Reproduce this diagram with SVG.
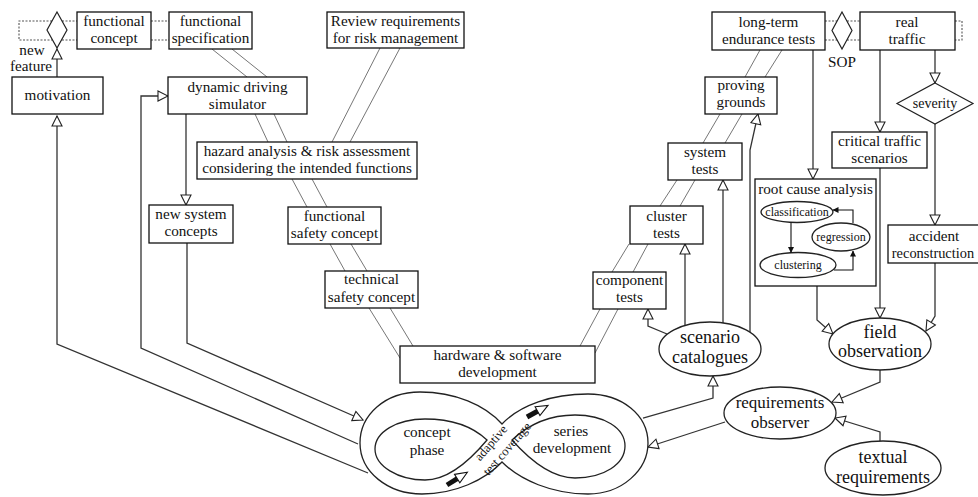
<svg xmlns="http://www.w3.org/2000/svg" width="978" height="497" viewBox="0 0 978 497" font-family="'Liberation Serif', 'DejaVu Serif', serif">
<defs>
<marker id="tri" viewBox="0 0 12 12" refX="11" refY="6" markerWidth="12" markerHeight="12" markerUnits="userSpaceOnUse" orient="auto">
<path d="M1,1 L11,6 L1,11 Z" fill="#fff" stroke="#222" stroke-width="1.1"/>
</marker>
<marker id="sm" viewBox="0 0 6 6" refX="5.5" refY="3" markerWidth="6" markerHeight="6" markerUnits="userSpaceOnUse" orient="auto">
<path d="M0,0 L6,3 L0,6 Z" fill="#111"/>
</marker>
</defs>
<style>
text{font-family:"Liberation Serif","DejaVu Serif",serif;fill:#111;text-anchor:middle}
.t{font-size:15.2px}
.b{font-size:18px}
.s{font-size:12px}
.box{fill:#fff;stroke:#111;stroke-width:1.3}
.ell{fill:#fff;stroke:#222;stroke-width:1.3}
.c{fill:none;stroke:#333;stroke-width:1.3;marker-end:url(#tri)}
.v{fill:none;stroke:#666;stroke-width:0.9}
.d{fill:none;stroke:#555;stroke-width:1.1;stroke-dasharray:2 1.5}
</style>
<rect width="978" height="497" fill="#fff"/>

<g id="vlines">
<path class="v" d="M212,49 L247,77 M232,49 L267,77"/>
<path class="v" d="M255,114 L268,142 M274,114 L287,142"/>
<path class="v" d="M380,48 L332,142 M400,48 L350,142"/>
<path class="v" d="M292,179 L307,207 M312,179 L327,207"/>
<path class="v" d="M330,244 L345,271 M351,244 L367,271"/>
<path class="v" d="M369,308 L400,358 M390,308 L413,346"/>
<path class="v" d="M580,346 L600,309 M595,353 L618,309"/>
<path class="v" d="M612,272 L629,244 M633,272 L648,244"/>
<path class="v" d="M660,206 L677,180 M680,206 L695,180"/>
<path class="v" d="M703,143 L720,114 M725,143 L742,114"/>
<path class="v" d="M745,77 L760,50 M765,77 L782,50"/>
</g>

<g id="connectors">
<path class="d" d="M52,21 H19 V40 H52 M62,21 H77 M62,40 H77 M151,21 H169 M151,40 H169"/>
<path class="d" d="M825,21 H837 M825,40 H837 M847,21 H860 M847,40 H860 M955,21 H962 V40 H955"/>
<path class="c" d="M57,77 V49"/>
<path class="c" d="M368,473 L57,344 V116"/>
<path class="c" d="M358,444 L141,348 V96 H168"/>
<path class="c" d="M186,114 V205"/>
<path class="c" d="M187,243 V343 L363,420"/>
<path class="c" d="M935,50 V83"/>
<path class="c" d="M880,50 V132"/>
<path class="c" d="M813,50 V179"/>
<path class="c" d="M935,124 V225"/>
<path class="c" d="M817,286 V320 L833,334"/>
<path class="c" d="M880,168 V318"/>
<path class="c" d="M935,263 V316 L926,331"/>
<path class="c" d="M880,370 V382 L832,402"/>
<path class="c" d="M880,442 V432 L835,418"/>
<path class="c" d="M725,422 L648,447"/>
<path class="c" d="M643,418 L713,398 V376"/>
<path class="c" d="M667,334 L648,326 V309"/>
<path class="c" d="M685,325 V244"/>
<path class="c" d="M723,323 V180"/>
<path class="c" d="M750,332 V150 L758,114"/>
</g>

<g id="new-feature">
<polygon points="57,12 67,30 57,48 47,30" fill="#fff" stroke="#222" stroke-width="1.2"/>
<text class="t" x="32" y="55">new</text>
<text class="t" x="31" y="71">feature</text>
</g>
<g id="functional-concept">
<rect class="box" x="77" y="12" width="74" height="37"/>
<text class="t" x="114" y="26">functional</text>
<text class="t" x="114" y="43">concept</text>
</g>
<g id="functional-specification">
<rect class="box" x="169" y="12" width="83" height="37"/>
<text class="t" x="210.5" y="26">functional</text>
<text class="t" x="210.5" y="43">specification</text>
</g>
<g id="review-requirements">
<rect class="box" x="327" y="12" width="137" height="36"/>
<text class="t" x="395.5" y="26">Review requirements</text>
<text class="t" x="395.5" y="43">for risk management</text>
</g>
<g id="motivation">
<rect class="box" x="12" y="77" width="91" height="37"/>
<text class="t" x="57.5" y="100">motivation</text>
</g>
<g id="dynamic-driving-simulator">
<rect class="box" x="168" y="77" width="139" height="37"/>
<text class="t" x="237.5" y="92">dynamic driving</text>
<text class="t" x="237.5" y="109">simulator</text>
</g>
<g id="hazard-analysis">
<rect class="box" x="197" y="142" width="220" height="37"/>
<text class="t" x="307" y="156">hazard analysis &amp; risk assessment</text>
<text class="t" x="307" y="173">considering the intended functions</text>
</g>
<g id="new-system-concepts">
<rect class="box" x="149" y="205" width="84" height="38"/>
<text class="t" x="191" y="219">new system</text>
<text class="t" x="191" y="236">concepts</text>
</g>
<g id="functional-safety-concept">
<rect class="box" x="288" y="207" width="93" height="37"/>
<text class="t" x="334.5" y="221">functional</text>
<text class="t" x="334.5" y="238">safety concept</text>
</g>
<g id="technical-safety-concept">
<rect class="box" x="325" y="271" width="93" height="37"/>
<text class="t" x="371.5" y="284">technical</text>
<text class="t" x="371.5" y="302">safety concept</text>
</g>
<g id="hw-sw-development">
<rect class="box" x="400" y="346" width="195" height="37"/>
<text class="t" x="497.5" y="360">hardware &amp; software</text>
<text class="t" x="497.5" y="377">development</text>
</g>
<g id="component-tests">
<rect class="box" x="593" y="272" width="73" height="37"/>
<text class="t" x="629.5" y="285">component</text>
<text class="t" x="629.5" y="302">tests</text>
</g>
<g id="cluster-tests">
<rect class="box" x="630" y="206" width="73" height="38"/>
<text class="t" x="666.5" y="221">cluster</text>
<text class="t" x="666.5" y="238">tests</text>
</g>
<g id="system-tests">
<rect class="box" x="668" y="143" width="74" height="37"/>
<text class="t" x="705" y="157">system</text>
<text class="t" x="705" y="174">tests</text>
</g>
<g id="proving-grounds">
<rect class="box" x="705" y="77" width="72" height="37"/>
<text class="t" x="741" y="90">proving</text>
<text class="t" x="741" y="107">grounds</text>
</g>
<g id="long-term-endurance-tests">
<rect class="box" x="712" y="12" width="113" height="38"/>
<text class="t" x="768.5" y="27">long-term</text>
<text class="t" x="768.5" y="44">endurance tests</text>
</g>
<g id="sop">
<polygon points="842,12 852,30.5 842,49 832,30.5" fill="#fff" stroke="#222" stroke-width="1.2"/>
<text class="t" x="842" y="67">SOP</text>
</g>
<g id="real-traffic">
<rect class="box" x="860" y="12" width="95" height="38"/>
<text class="t" x="907" y="27">real</text>
<text class="t" x="907" y="44">traffic</text>
</g>
<g id="severity">
<polygon points="935,83 973,103.5 935,124 897,103.5" fill="#fff" stroke="#222" stroke-width="1.2"/>
<text style="font-size:14px" x="935" y="108">severity</text>
</g>
<g id="critical-traffic-scenarios">
<rect class="box" x="832" y="132" width="95" height="36"/>
<text class="t" x="879.5" y="146">critical traffic</text>
<text class="t" x="879.5" y="163">scenarios</text>
</g>
<g id="root-cause-analysis">
<rect class="box" x="755" y="179" width="121" height="107"/>
<text class="t" x="815.5" y="194">root cause analysis</text>
<ellipse class="ell" cx="797" cy="212" rx="36" ry="10.5" stroke-width="1"/>
<text class="s" x="797" y="216">classification</text>
<ellipse class="ell" cx="841" cy="237" rx="29" ry="14" stroke-width="1"/>
<text class="s" x="841" y="241">regression</text>
<ellipse class="ell" cx="798" cy="265" rx="38" ry="12.5" stroke-width="1"/>
<text class="s" x="798" y="269">clustering</text>
<path d="M791,222.5 V252.5" fill="none" stroke="#111" stroke-width="1.1" marker-end="url(#sm)"/>
<path d="M853,223 V210 H833" fill="none" stroke="#111" stroke-width="1.1" marker-end="url(#sm)"/>
<path d="M834,270 H853 V251" fill="none" stroke="#111" stroke-width="1.1" marker-end="url(#sm)"/>
</g>
<g id="accident-reconstruction">
<rect class="box" x="888" y="225" width="100" height="38"/>
<text class="t" x="934" y="241">accident</text>
<text style="font-size:14.4px" x="933" y="258">reconstruction</text>
</g>
<g id="scenario-catalogues">
<ellipse class="ell" cx="710" cy="349" rx="51" ry="27"/>
<text class="b" x="710" y="343">scenario</text>
<text class="b" x="710" y="363">catalogues</text>
</g>
<g id="field-observation">
<ellipse class="ell" cx="880" cy="344" rx="51" ry="26"/>
<text class="b" x="880" y="338">field</text>
<text class="b" x="880" y="357">observation</text>
</g>
<g id="requirements-observer">
<ellipse class="ell" cx="780" cy="413" rx="56" ry="26"/>
<text style="font-size:17px" x="780" y="408">requirements</text>
<text style="font-size:17px" x="780" y="428">observer</text>
</g>
<g id="textual-requirements">
<ellipse class="ell" cx="883" cy="468" rx="58" ry="27"/>
<text class="b" x="883" y="463">textual</text>
<text class="b" x="883" y="483">requirements</text>
</g>

<g id="infinity">
<path d="M502,424 C485,405 455,392 420,392 C385,392 360,415 360,443 C360,472 388,494 422,494 C455,494 485,480 502,462 C520,480 552,494 588,494 C622,494 648,470 648,443 C648,415 622,394 588,394 C552,394 520,405 502,424 Z" fill="#fff" stroke="#222" stroke-width="1.3"/>
<path d="M487,440 C470,424 448,419 425,419 C397,419 375,432 375,449 C375,466 398,480 425,480 C450,480 472,458 487,440 Z" fill="#fff" stroke="#222" stroke-width="1.3"/>
<path d="M512,440 C528,425 550,415 575,415 C604,415 625,428 625,446 C625,464 604,478 575,478 C550,478 528,458 512,440 Z" fill="#fff" stroke="#222" stroke-width="1.3"/>
<text class="t" x="427" y="437">concept</text>
<text class="t" x="427" y="455">phase</text>
<text class="t" x="571" y="436">series</text>
<text class="t" x="572" y="453">development</text>
<g transform="translate(499,446) rotate(-49)">
<text style="font-size:12.5px" x="-3" y="-4">adaptive</text>
<text style="font-size:12.5px" x="3" y="12">test coverage</text>
</g>
<g transform="translate(447,485) rotate(-32)">
<line x1="0" y1="0" x2="13" y2="0" stroke="#111" stroke-width="5"/>
<polygon points="12,-5 24,0 12,5" fill="#fff" stroke="#111" stroke-width="1.1"/>
</g>
<g transform="translate(527,417) rotate(-29)">
<line x1="0" y1="0" x2="13" y2="0" stroke="#111" stroke-width="5"/>
<polygon points="12,-5 24,0 12,5" fill="#fff" stroke="#111" stroke-width="1.1"/>
</g>
</g>
</svg>
